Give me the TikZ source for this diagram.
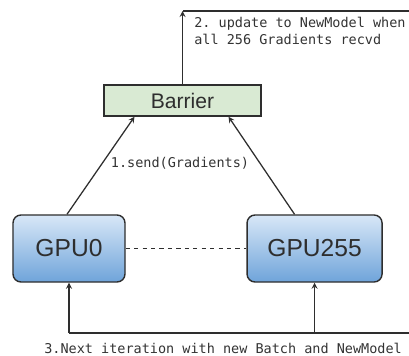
\documentclass[tikz,border=0pt]{standalone}
\usepackage{fontspec}
\setmainfont{Liberation Sans}
\setmonofont{DejaVu Sans Mono}
\definecolor{gpuTop}{HTML}{D8E7F7}
\definecolor{gpuBot}{HTML}{6FA4DA}
\definecolor{barrierFill}{HTML}{D9EAD3}
\definecolor{inkGray}{HTML}{2E2E2E}
\begin{document}
\begin{tikzpicture}[x=0.025cm, y=-0.025cm, node distance=6.1375cm]
        \tikzstyle{gpu} = [draw=inkGray, line width=1pt, rounded corners=0.2cm, top color=gpuTop, bottom color=gpuBot, minimum height=1.675cm, font=\fontsize{17.5}{20}\selectfont, text=inkGray];
        \tikzstyle{barrier} = [draw=inkGray, line width=1pt, fill=barrierFill, minimum width=3.925cm, minimum height=0.775cm, font=\fontsize{15}{18}\selectfont, text=inkGray];
        \tikzstyle{note} = [font=\ttfamily\fontsize{9.6}{12}\selectfont, text=black!80, inner sep=0pt];
        \tikzstyle{link} = [draw=inkGray, line width=0.9pt];
        \useasboundingbox (0,0) rectangle (409,356);

        \node [gpu, minimum width=2.8cm] (gpu0) at (69,248.5) {GPU0};
        \node [gpu, minimum width=3.375cm, right of=gpu0] (gpu255) {GPU255};
        \node [barrier] (bar) at (182.5,100.5) {Barrier};

        % 1. gradients up to the barrier
        \draw [link, -stealth] ([xshift=-0.05cm]gpu0.north) -- ([xshift=0.78cm]bar.south west);
        \draw [link, -stealth] ([xshift=-0.5cm]gpu255.north) -- ([xshift=-0.83cm]bar.south east);
        \node [note] (sendlbl) at (180,163) {1.send(Gradients)};
        \draw [link, dashed] (gpu0.east) -- (gpu255.west);

        % 2. update of the model
        \coordinate (upTop) at (182.5,11);
        \coordinate (upRight) at (409,11);
        \draw [link] (upRight) -- (upTop);
        \draw [link, -stealth] (bar.north) -- (upTop);
        \node [note, anchor=north west, align=left] (updlbl) at (194,17) {2. update to NewModel when\\all 256 Gradients recvd};

        % 3. next iteration
        \coordinate (loopLeft) at (69,333);
        \coordinate (loopRight) at (409,333);
        \draw [link] (loopLeft) -- (loopRight);
        \draw [link, -stealth] (loopLeft) -- (gpu0.south);
        \draw [link, -stealth] (gpu255.south |- loopLeft) -- (gpu255.south);
        \node [note, anchor=west] (nextlbl) at (44,348) {3.Next iteration with new Batch and NewModel};
    \end{tikzpicture}
\end{document}
